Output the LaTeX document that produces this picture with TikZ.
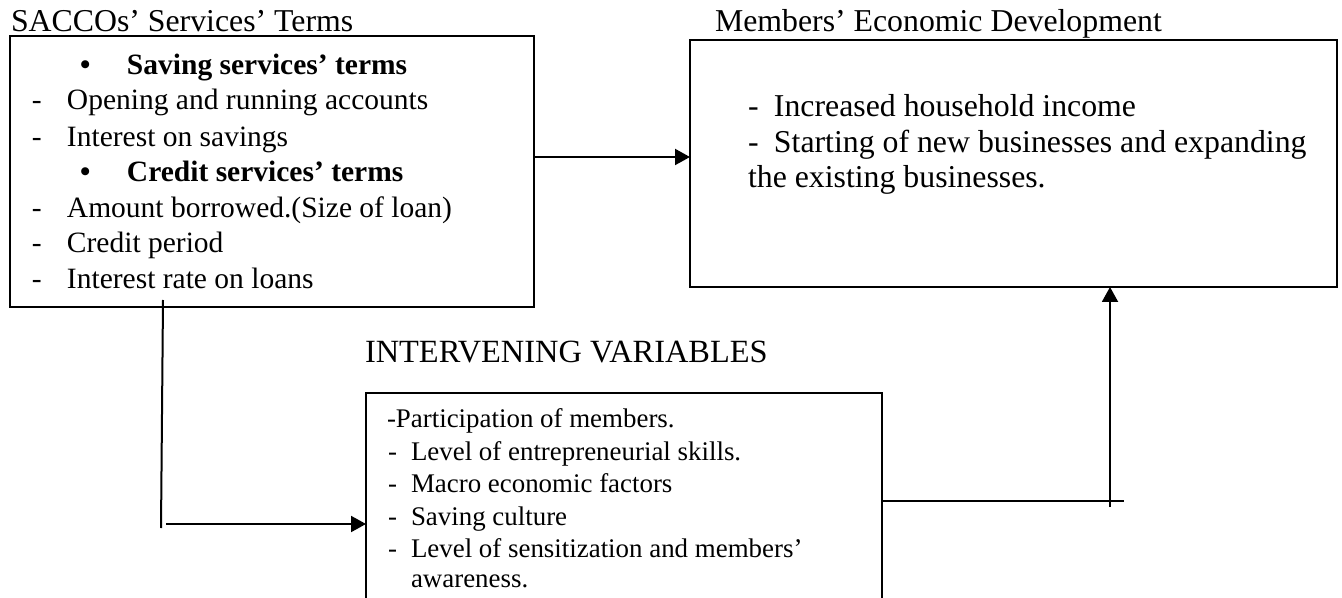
\documentclass[tikz,border=0pt]{standalone}
\usepackage{fontspec}
\setmainfont{Liberation Serif}
\usetikzlibrary{arrows.meta}
\begin{document}
\begin{tikzpicture}[x=0.5pt,y=-0.5pt,
  box/.style={draw, line width=1pt, inner sep=0pt, outer sep=0pt},
  txt/.style={anchor=base west, inner sep=0pt, outer sep=0pt},
  ttl/.style={txt, font=\fontsize{15.9pt}{19pt}\selectfont},
  lt/.style={txt, font=\fontsize{14.75pt}{18pt}\selectfont},
  lbt/.style={txt, font=\fontsize{14.75pt}{18pt}\selectfont\bfseries},
  rt/.style={txt, font=\fontsize{15.9pt}{19pt}\selectfont},
  bt/.style={txt, font=\fontsize{13.45pt}{16pt}\selectfont},
  conn/.style={line width=1pt},
  arr/.style={conn, -{Triangle[length=7.5pt,width=8pt]}}]
\clip (0,0) rectangle (1342,598);
\fill[white] (0,0) rectangle (1342,598);
% boxes
\node[box, minimum width=262pt, minimum height=135.5pt] (b1) at (272,171.5) {};
\node[box, minimum width=323.5pt, minimum height=123.5pt] (b2) at (1013.5,163.5) {};
\node[box, minimum width=258pt, minimum height=113.5pt] (b3) at (624,506.5) {};
% titles
\node[ttl] (t1) at (11,32) {SACCOs’ Services’ Terms};
\node[ttl] (t2) at (715,32) {Members’ Economic Development};
\node[ttl, font=\fontsize{16.2pt}{19pt}\selectfont] (t3) at (365,363) {INTERVENING VARIABLES};
% left box text
\node[lbt] (l1) at (80,75) {\makebox[23.5pt][l]{•}Saving services’ terms};
\node[lt] (l2) at (32,110) {\makebox[17.5pt][l]{-}Opening and running accounts};
\node[lt] (l3) at (32,147) {\makebox[17.5pt][l]{-}Interest on savings};
\node[lbt] (l4) at (80,182) {\makebox[23.5pt][l]{•}Credit services’ terms};
\node[lt] (l5) at (32,218) {\makebox[17.5pt][l]{-}Amount borrowed.(Size of loan)};
\node[lt] (l6) at (32,253) {\makebox[17.5pt][l]{-}Credit period};
\node[lt] (l7) at (32,289) {\makebox[17.5pt][l]{-}Interest rate on loans};
% right box text
\node[rt] (r1) at (748,117) {\makebox[13pt][l]{-}Increased household income};
\node[rt] (r2) at (748,153) {\makebox[13pt][l]{-}Starting of new businesses and expanding};
\node[rt] (r3) at (748,188) {the existing businesses.};
% bottom box text
\node[bt] (m1) at (387,427) {-Participation of members.};
\node[bt] (m2) at (388,460) {\makebox[11.5pt][l]{-}Level of entrepreneurial skills.};
\node[bt] (m3) at (388,492) {\makebox[11.5pt][l]{-}Macro economic factors};
\node[bt] (m4) at (388,525) {\makebox[11.5pt][l]{-}Saving culture};
\node[bt] (m5) at (388,557) {\makebox[11.5pt][l]{-}Level of sensitization and members’};
\node[bt] (m6) at (411,587) {awareness.};
% connectors
\coordinate (a1) at (534,157);
\draw[arr] (b1.east |- a1) -- (b2.west |- a1);
\coordinate (c1) at (163,300);
\coordinate (c2) at (161,528);
\draw[conn] (c1) -- (c2);
\coordinate (c3) at (166,524);
\draw[arr] (c3) -- (c3 -| b3.west);
\coordinate (c4) at (1124,501);
\draw[conn] (b3.east |- c4) -- (c4);
\coordinate (c5) at (1110,507);
\draw[arr] (c5) -- (c5 |- b2.south);
\end{tikzpicture}
\end{document}
